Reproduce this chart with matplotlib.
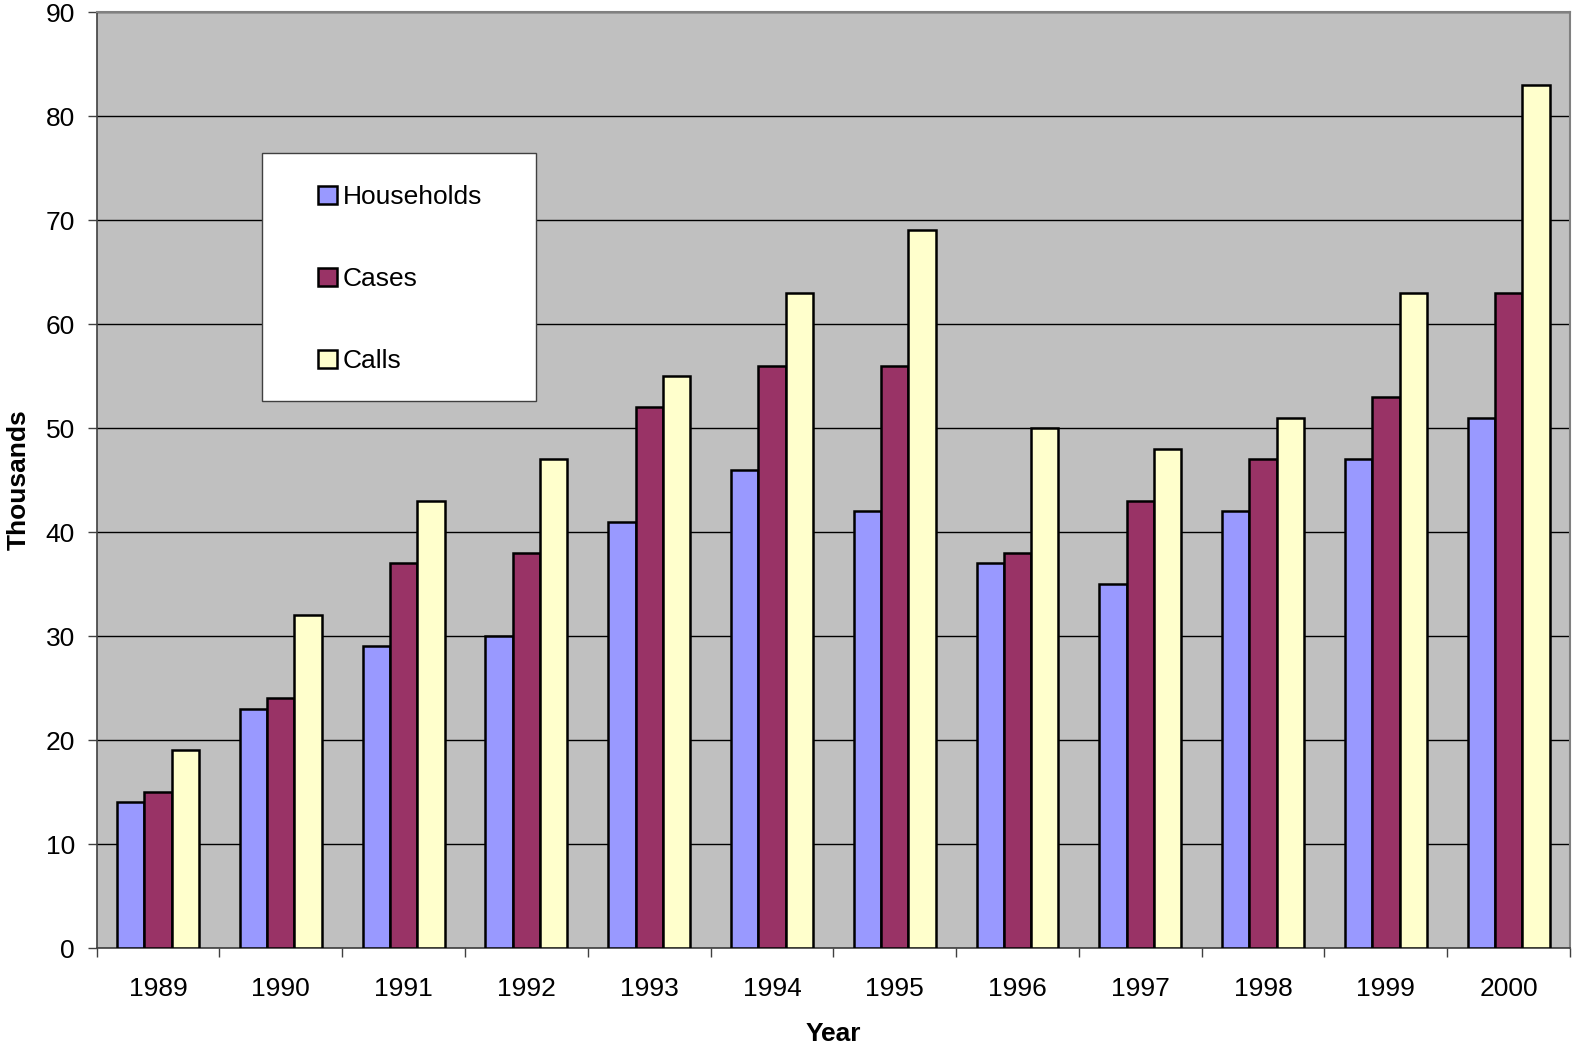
import matplotlib.pyplot as plt
import numpy as np
from matplotlib.patches import Patch, Rectangle

years = ["1989", "1990", "1991", "1992", "1993", "1994",
         "1995", "1996", "1997", "1998", "1999", "2000"]
households = [14, 23, 29, 30, 41, 46, 42, 37, 35, 42, 47, 51]
cases = [15, 24, 37, 38, 52, 56, 56, 38, 43, 47, 53, 63]
calls = [19, 32, 43, 47, 55, 63, 69, 50, 48, 51, 63, 83]

series = [
    ("Households", households, "#9999FF"),
    ("Cases", cases, "#993366"),
    ("Calls", calls, "#FFFFCC"),
]

plt.rcParams["font.family"] = ["Liberation Sans", "DejaVu Sans"]
FS = 19

fig = plt.figure(figsize=(15.74, 10.45), dpi=100)
ax = fig.add_axes([0.0614, 0.0928, 0.9361, 0.8957])
ax.set_facecolor("#C0C0C0")

x = np.arange(len(years))
width = 1 / 4.5
for i, (name, vals, color) in enumerate(series):
    ax.bar(x + (i - 1) * width, vals, width, color=color, edgecolor="black",
           linewidth=1.8, label=name, zorder=3)

ax.set_xlim(-0.5, len(years) - 0.5)
ax.set_ylim(0, 90)
ax.set_yticks(range(0, 91, 10))
ax.yaxis.grid(True, color="black", linewidth=1.0, zorder=1)
ax.set_axisbelow(True)

ax.set_xticks(x)
ax.set_xticklabels(years)
ax.set_xticks(np.arange(-0.5, len(years)), minor=True)
ax.tick_params(axis="x", which="major", length=0, pad=21, labelsize=FS)
ax.tick_params(axis="x", which="minor", length=6.5, width=1, color="#404040", direction="out")
ax.tick_params(axis="y", length=6.5, width=1, color="#404040", labelsize=FS, pad=9)

for side in ("top", "right"):
    ax.spines[side].set_color("#808080")
    ax.spines[side].set_linewidth(1.5)
for side in ("left", "bottom"):
    ax.spines[side].set_color("#404040")
    ax.spines[side].set_linewidth(1.2)

ax.set_xlabel("Year", fontsize=FS, fontweight="bold", labelpad=15)
ax.set_ylabel("Thousands", fontsize=FS, fontweight="bold", labelpad=11)

# white legend box drawn by hand, entries placed inside it
ax.add_patch(Rectangle((0.112, 0.584), 0.186, 0.265, transform=ax.transAxes,
                       facecolor="white", edgecolor="#404040", linewidth=1.0, zorder=5))
handles = [Patch(facecolor=c, edgecolor="black", linewidth=1.8) for _, _, c in series]
leg = ax.legend(handles, [s[0] for s in series], loc="upper left",
                bbox_to_anchor=(0.150, 0.815), frameon=False, fontsize=FS,
                borderpad=0, labelspacing=2.2, handlelength=0.72,
                handleheight=0.72, handletextpad=0.23, borderaxespad=0)
leg.set_zorder(6)

fig.savefig("out.png", dpi=100)
